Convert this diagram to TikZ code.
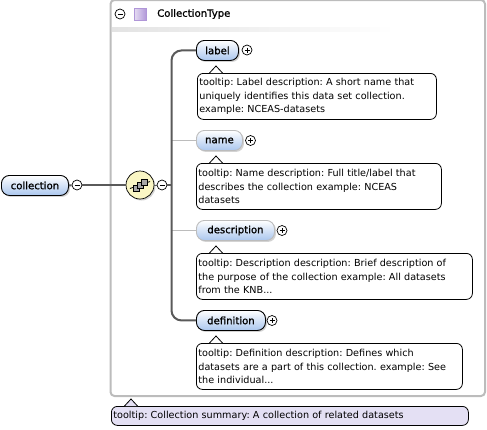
\documentclass[tikz,border=0pt]{standalone}
\usepackage{fontspec}
\setmainfont{DejaVu Sans}
\newfontfamily\pillfont[FakeBold=1.1]{DejaVu Sans}
\usetikzlibrary{shadows,calc}
\definecolor{pillblue}{RGB}{170,198,238}
\definecolor{boxgray}{RGB}{188,188,188}
\definecolor{lineshade}{RGB}{90,90,90}
\definecolor{typepurple}{RGB}{176,150,216}
\definecolor{seqyellow}{RGB}{250,246,196}
\definecolor{tiplav}{RGB}{228,224,244}
\tikzset{
  pill/.style={draw=black,line width=.9pt,rounded corners=8pt,top color=white,bottom color=pillblue,
    minimum height=20pt,inner sep=0pt,anchor=north west,font=\pillfont\fontsize{10.1}{11}\selectfont,
    drop shadow={shadow xshift=1.5pt,shadow yshift=-1.5pt,opacity=.35}},
  optpill/.style={pill,draw=boxgray},
  tipbox/.style={draw=black,line width=.8pt,rounded corners=6pt,fill=white,anchor=north west,
    inner sep=2pt,align=left,font=\fontsize{9.65}{13.4}\selectfont\frenchspacing},
  toggle/.style={draw=black,fill=white,circle,line width=.7pt,minimum size=10pt,inner sep=0pt},
  strong/.style={draw=lineshade,line width=2pt},
  weak/.style={draw=boxgray,line width=1pt},
  sqr/.style={draw=black,fill=gray!70,line width=.5pt}
}
% pointer of a tooltip: fill colour, x where it starts, y of the top edge of the box
\newcommand{\tippointer}[3][white]{\draw[line width=.8pt,fill=#1] (#2,#3) -- ++(6.5,-7) -- ++(6.5,7);}
% sign in a toggle: node name, 1 for a plus
\newcommand{\togglesign}[2]{\draw[line width=.7pt] ($(#1)+(-2.5,0)$) -- ($(#1)+(2.5,0)$);
  \ifnum#2=1 \draw[line width=.7pt] ($(#1)+(0,-2.5)$) -- ($(#1)+(0,2.5)$);\fi}
\begin{document}
\begin{tikzpicture}[x=1pt,y=-1pt]
  \useasboundingbox (0,0) rectangle (487,429);

  % type box
  \draw[boxgray,line width=2pt,rounded corners=4pt] (110.5,0) -- (110.5,396) -- (485,396) -- (485,0) -- cycle;
  \fill[left color=gray!22,right color=white] (112,27.5) rectangle (395,31);
  \node[toggle] (typetoggle) at (120,14) {};
  \togglesign{typetoggle}{0}
  \node[draw=typepurple,line width=1pt,left color=typepurple!35,right color=typepurple,minimum size=12pt,inner sep=0pt] (typeicon) at (140.5,14.5) {};
  \node[anchor=west,inner sep=0pt,font=\pillfont\fontsize{10.1}{11}\selectfont] (typename) at (157,14) {CollectionType};

  % connectors
  \node[pill,minimum width=67pt] (collection) at (1,175) {collection};
  \node[toggle] (collectiontoggle) at (77,185) {};
  \node[draw=black,fill=seqyellow,circle,line width=.7pt,minimum size=28pt,inner sep=0pt,
    drop shadow={shadow xshift=1.5pt,shadow yshift=-1.5pt,opacity=.35}] (seq) at (140,185) {};
  \node[toggle] (seqtoggle) at (162,185) {};
  \node[pill,minimum width=42pt] (label) at (196,40) {label};
  \node[optpill,minimum width=46pt] (name) at (196,130) {name};
  \node[optpill,minimum width=78pt] (description) at (196,220) {description};
  \node[pill,minimum width=69pt] (definition) at (196,310) {definition};
  \coordinate (trunk) at (171.5,185);

  \draw[weak] (name.west) -- (name.west -| trunk);
  \draw[weak] (description.west) -- (description.west -| trunk);
  \draw[strong,rounded corners=10pt] (label.west) -- (label.west -| trunk) -- (definition.west -| trunk) -- (definition.west);
  \draw[strong] (collection.east) -- (collectiontoggle);
  \draw[strong] (collectiontoggle) -- (seq);
  \draw[strong,line width=1pt] (seq) -- (seqtoggle);
  \draw[strong,line width=1.5pt] (seqtoggle) -- (trunk);

  \togglesign{collectiontoggle}{0}
  \togglesign{seqtoggle}{0}
  \draw[line width=.8pt] (130,188.5) -- (150,181.5);
  \foreach \sx/\sy in {133/185,137/182,141/179}
    \draw[sqr] (\sx,\sy) rectangle ++(6,6);

  \node[toggle] (labeltoggle) at (247,50) {};
  \node[toggle] (nametoggle) at (250.5,140.5) {};
  \node[toggle] (descriptiontoggle) at (282,230.5) {};
  \node[toggle] (definitiontoggle) at (272,320.5) {};
  \foreach \tg in {labeltoggle,nametoggle,descriptiontoggle,definitiontoggle}
    {\togglesign{\tg}{1}}

  % tooltips
  \node[tipbox,text width=235pt,minimum height=46pt] (labeltip) at (197,73) {tooltip: Label description: A short name that\\uniquely identifies this data set collection.\\example: NCEAS-datasets};
  \node[tipbox,text width=241pt,minimum height=46pt] (nametip) at (196,163) {tooltip: Name description: Full title/label that\\describes the collection example: NCEAS\\datasets};
  \node[tipbox,text width=272pt,minimum height=46pt] (descriptiontip) at (196,253) {tooltip: Description description: Brief description of\\the purpose of the collection example: All datasets\\from the KNB...};
  \node[tipbox,text width=262pt,minimum height=46pt] (definitiontip) at (196,343) {tooltip: Definition description: Defines which\\datasets are a part of this collection. example: See\\the individual...};
  \node[tipbox,fill=tiplav,text width=353pt,minimum height=19pt] (collectiontip) at (111,406) {tooltip: Collection summary: A collection of related datasets};
  \foreach \tx/\ty in {209.5/73,209.5/163,209.5/253,209.5/343}
    {\tippointer{\tx}{\ty}}
  \tippointer[tiplav]{124.5}{406}
\end{tikzpicture}
\end{document}
